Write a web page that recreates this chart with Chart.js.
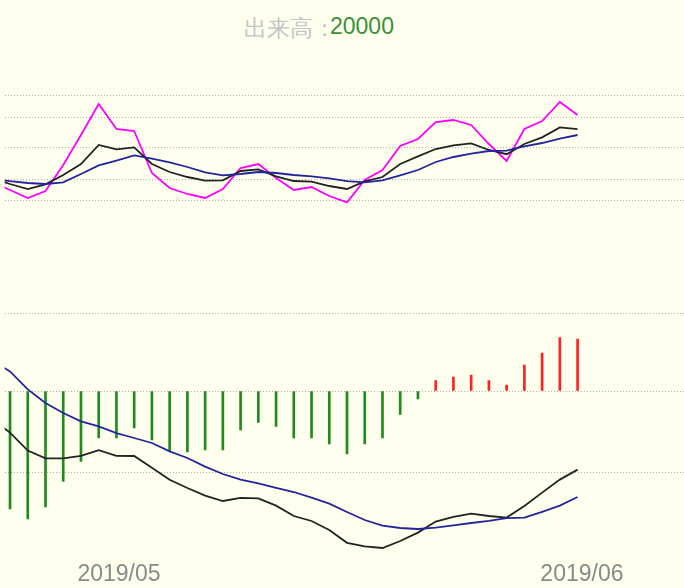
<!DOCTYPE html>
<html>
<head>
<meta charset="utf-8">
<script src="https://cdn.jsdelivr.net/npm/chart.js@4"></script>
<style>
  body { margin: 0; background: #ffffee; }
  #wrap { position: relative; width: 684px; height: 588px; overflow: hidden; }
  canvas { position: absolute; left: 0; top: 0; }
  .title { position: absolute; top: 13px; font: 23px "Liberation Sans", sans-serif; white-space: nowrap; }
</style>
</head>
<body>
<div id="wrap">
  <span class="title" style="left:244px;color:#c4c4c4">出来高：</span>
  <span class="title" style="left:330px;color:#3a8f3a">20000</span>
  <canvas id="price" width="684" height="588"></canvas>
  <canvas id="macd" width="684" height="588"></canvas>
</div>
<script>
// moving averages (first value is one bar before the first bar, off the left edge)
const MA5  = [2090, 2050, 2010, 2045, 2175, 2325, 2480, 2355, 2345, 2135, 2060, 2030, 2010, 2055, 2160, 2180, 2110,
              2050, 2065, 2020, 1988, 2100, 2150, 2270, 2305, 2390, 2400, 2375, 2280, 2195, 2355, 2395, 2490, 2425];
const MA10 = [2110, 2080, 2055, 2078, 2125, 2180, 2275, 2253, 2263, 2180, 2140, 2115, 2097, 2098, 2145, 2153, 2118,
              2095, 2092, 2070, 2055, 2093, 2115, 2180, 2218, 2255, 2273, 2283, 2250, 2229, 2280, 2313, 2363, 2354];
const MA20 = [2106, 2094, 2085, 2080, 2088, 2130, 2173, 2197, 2223, 2207, 2188, 2165, 2138, 2123, 2130, 2140, 2135,
              2125, 2118, 2108, 2094, 2088, 2098, 2123, 2150, 2190, 2215, 2232, 2245, 2247, 2268, 2285, 2307, 2325];
const PRICE_GRID = [2522, 2412, 2264, 2105, 2000];

// MACD
const DIF = [-14.2, -20.8, -29.8, -33.7, -33.7, -32.4, -29.6, -32.4, -32.5, -38.4, -44.4, -48.5, -52.3, -55, -53.4, -53.7, -57.3,
             -62.5, -65, -69.5, -75.9, -77.7, -78.5, -75, -70.8, -65.3, -62.9, -61.3, -62.5, -63.3, -57.5, -50.8, -44.3, -39.3];
const DEA = [15.2, 9.8, 0.8, -6, -11, -15.2, -17.7, -21.1, -23.5, -26, -30.2, -33.5, -37.8, -41.5, -44.3, -46.2, -48.4,
             -50.5, -53.3, -56.3, -60.5, -64.5, -67.3, -68.5, -69, -68.3, -67.2, -66, -64.9, -63.6, -63.3, -60.4, -57.3, -53];
const MACD_HIST = [-59, -64, -58, -45.2, -35.2, -23.4, -23.4, -18.4, -24.5, -29.9, -30.5, -29.5, -29.5, -19.4, -15.7, -17.7, -23.4,
                   -23.4, -26.5, -31.5, -26.5, -23.4, -11.7, -3.9, 5.2, 7, 8, 5.2, 3, 12.9, 18.9, 26.7, 25.9];
const MACD_GRID = [39, 0, -40.5];

const DATE_LABELS = ['2019/05', '2019/06'];
const DATE_POS = [3.8, 29.9];

const LINE_START = -1;
const X_MIN = -0.3, X_MAX = 38;

function line(values, color) {
  return {
    type: 'line',
    data: values.map((v, i) => ({ x: LINE_START + i, y: v })),
    borderColor: color,
    borderWidth: 1.8,
    pointRadius: 0,
    tension: 0,
    fill: false
  };
}

function gridAxis(min, max, ticks) {
  return {
    min: min, max: max,
    afterBuildTicks: s => { s.ticks = ticks.map(v => ({ value: v })); },
    ticks: { display: false },
    border: { display: false, dash: [1, 2] },
    grid: { color: '#b0b0b0', lineWidth: 1, drawTicks: false }
  };
}

const common = {
  responsive: false,
  animation: false,
  plugins: { legend: { display: false }, tooltip: { enabled: false } }
};

new Chart(document.getElementById('price'), {
  type: 'line',
  data: { datasets: [line(MA20, '#24249e'), line(MA10, '#222222'), line(MA5, '#ff00ff')] },
  options: {
    ...common,
    layout: { padding: { top: 50, bottom: 338, left: 4.7, right: 0 } },
    scales: {
      x: { type: 'linear', min: X_MIN, max: X_MAX, display: false },
      y: gridAxis(1750, 2750, PRICE_GRID)
    }
  }
});

new Chart(document.getElementById('macd'), {
  type: 'bar',
  data: {
    datasets: [
      line(DEA, '#24249e'),
      line(DIF, '#222222'),
      {
        type: 'bar',
        data: MACD_HIST.map((v, i) => ({ x: i, y: v })),
        backgroundColor: MACD_HIST.map(v => v >= 0 ? '#ff2222' : '#1f8b1f'),
        barThickness: 2
      }
    ]
  },
  options: {
    ...common,
    layout: { padding: { top: 260, bottom: 0, left: 4.7, right: 0 } },
    scales: {
      x: {
        type: 'linear', min: X_MIN, max: X_MAX, offset: false,
        afterBuildTicks: s => { s.ticks = DATE_POS.map(v => ({ value: v })); },
        afterFit: s => { s.height = 30; },
        ticks: {
          autoSkip: false, maxRotation: 0, align: 'start', padding: 3,
          color: '#8a8a8a', font: { family: 'Liberation Sans', size: 23 },
          callback: (v, i) => DATE_LABELS[i]
        },
        grid: { display: false, drawTicks: false, offset: false },
        border: { display: false }
      },
      y: gridAxis(-83.5, 65.5, MACD_GRID)
    }
  }
});
</script>
</body>
</html>
